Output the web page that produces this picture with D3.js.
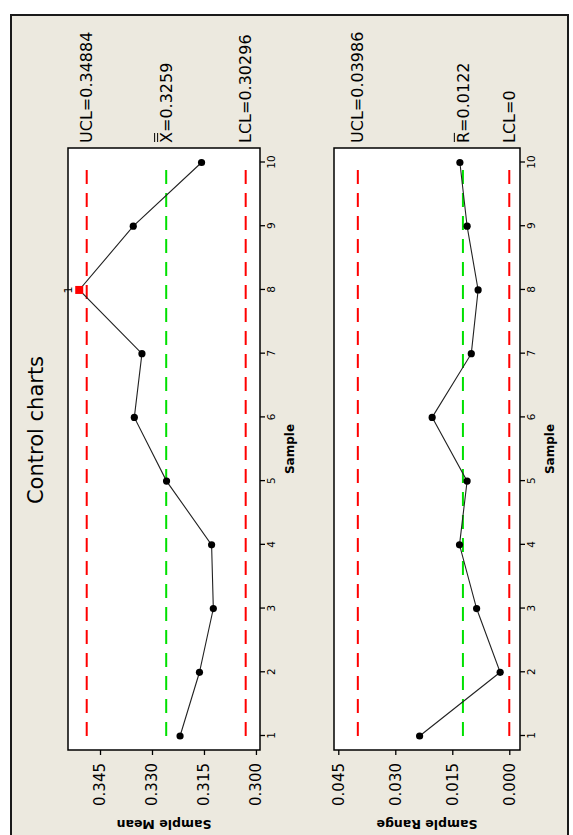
<!DOCTYPE html>
<html><head><meta charset="utf-8">
<script src="https://cdn.jsdelivr.net/npm/d3@7"></script>
<style>body{margin:0;background:#fff;} svg{display:block}</style>
</head><body><svg id="c" width="573" height="835"></svg>
<script>
// ---- data ----
const samples = [1,2,3,4,5,6,7,8,9,10];
const sampleMeans  = [0.3219,0.3163,0.3123,0.3128,0.3258,0.3351,0.3329,0.3510,0.3354,0.3157];
const sampleRanges = [0.0236,0.0024,0.0086,0.0131,0.0111,0.0203,0.0100,0.0082,0.0111,0.0130];
const meanLimitValues  = [0.34884, 0.3259, 0.30296];
const meanLimitLabels  = ["UCL=0.34884", "=0.3259", "LCL=0.30296"];
const rangeLimitValues = [0.03986, 0.0122, 0];
const rangeLimitLabels = ["UCL=0.03986", "=0.0122", "LCL=0"];
const meanTicks  = [0.300, 0.315, 0.330, 0.345];
const rangeTicks = [0.000, 0.015, 0.030, 0.045];
const flaggedSamples = [8];
const flagLabel = "1";
const title = "Control charts";

// ---- layout (drawn in landscape coords, then rotated -90) ----
const svg = d3.select("#c");
svg.append("rect").attr("x",11).attr("y",15).attr("width",557).attr("height",840)
  .attr("fill","#ECE9DF").attr("stroke","#1a1a1a").attr("stroke-width",2);

const g = svg.append("g").attr("transform","translate(0,835) rotate(-90)");
const X0 = 85, X1 = 687;
const xS = d3.scaleLinear().domain([1,10]).range([99,672.5]);
const FONT = "DejaVu Sans, Verdana, sans-serif";

g.append("text").attr("x",405).attr("y",43).attr("text-anchor","middle")
  .attr("font-family",FONT).attr("font-size",21).attr("fill","#000").text(title);

function panel(cfg){
  const {y0,y1,domain,values,limVals,limLabels,ticks,ylabel,barCount} = cfg;
  const yS = d3.scaleLinear().domain(domain).range([y1,y0]);
  const p = g.append("g");
  p.append("rect").attr("x",X0).attr("y",y0).attr("width",X1-X0).attr("height",y1-y0)
    .attr("fill","#fff").attr("stroke","#000").attr("stroke-width",1.5);
  // sample axis
  const ax = p.append("g").attr("transform",`translate(0,${y1})`)
    .call(d3.axisBottom(xS).tickValues(samples).tickSize(5).tickSizeOuter(0).tickPadding(3).tickFormat(d3.format("d")));
  ax.select(".domain").remove();
  ax.selectAll("line").attr("stroke","#000").attr("stroke-width",1.3);
  ax.selectAll("text").attr("font-family",FONT).attr("font-size",10.5).attr("fill","#000");
  // value axis
  const ay = p.append("g").attr("transform",`translate(${X0},0)`)
    .call(d3.axisLeft(yS).tickValues(ticks).tickSize(5).tickSizeOuter(0).tickPadding(8).tickFormat(d3.format(".3f")));
  ay.select(".domain").remove();
  ay.selectAll("line").attr("stroke","#000").attr("stroke-width",1.3);
  ay.selectAll("text").attr("font-family",FONT).attr("font-size",15).attr("fill","#000");
  // axis titles
  p.append("text").attr("x",(X0+X1)/2).attr("y",y1+34).attr("text-anchor","middle")
    .attr("font-family",FONT).attr("font-weight","bold").attr("font-size",12).text("Sample");
  p.append("text").attr("transform",`translate(15,${(y0+y1)/2}) rotate(-90)`).attr("text-anchor","middle")
    .attr("font-family",FONT).attr("font-weight","bold").attr("font-size",12.5).text(ylabel);
  // control lines
  limVals.forEach((v,i)=>{
    p.append("line").attr("x1",xS(samples[0])).attr("x2",xS(samples[samples.length-1]))
      .attr("y1",yS(v)).attr("y2",yS(v))
      .attr("stroke", i===1 ? "#00E000" : "#FF0000").attr("stroke-width",2)
      .attr("stroke-dasharray","14,9");
    const lx = 692, ly = yS(v);
    if(i===1){
      const sym = p.append("text").attr("x",lx).attr("y",ly).attr("dy","0.35em")
        .attr("font-family",FONT).attr("font-size",16).text(barCount===2?"X":"R");
      const bb = sym.node().getBBox();
      const capTop = ly + 0.35*16 - 0.73*16;
      for(let k=0;k<barCount;k++){
        const by = capTop - 2.5 - k*3;
        p.append("line").attr("x1",bb.x+1).attr("x2",bb.x+bb.width-1).attr("y1",by).attr("y2",by)
          .attr("stroke","#000").attr("stroke-width",1);
      }
      p.append("text").attr("x",lx+bb.width).attr("y",ly).attr("dy","0.35em")
        .attr("font-family",FONT).attr("font-size",16).text(limLabels[i]);
    } else {
      p.append("text").attr("x",lx).attr("y",ly).attr("dy","0.35em")
        .attr("font-family",FONT).attr("font-size",16).text(limLabels[i]);
    }
  });
  // data line
  const pts = samples.map((s,i)=>({s, v:values[i]}));
  p.append("path").datum(pts).attr("fill","none").attr("stroke","#222").attr("stroke-width",1.1)
    .attr("d", d3.line().x(d=>xS(d.s)).y(d=>yS(d.v)));
  const flagged = d => cfg.flags && flaggedSamples.includes(d.s);
  p.selectAll("circle").data(pts.filter(d=>!flagged(d))).join("circle")
    .attr("cx",d=>xS(d.s)).attr("cy",d=>yS(d.v)).attr("r",3.6).attr("fill","#000");
  const fp = pts.filter(flagged);
  p.selectAll("rect.flag").data(fp).join("rect").attr("class","flag")
    .attr("x",d=>xS(d.s)-4).attr("y",d=>yS(d.v)-4).attr("width",8).attr("height",8).attr("fill","#FF0000");
  p.selectAll("text.flag").data(fp).join("text").attr("class","flag")
    .attr("x",d=>xS(d.s)).attr("y",d=>yS(d.v)-7).attr("text-anchor","middle")
    .attr("font-family",FONT).attr("font-size",11).text(flagLabel);
}

panel({y0:68, y1:260, domain:[0.29883,0.35424], values:sampleMeans, limVals:meanLimitValues,
  limLabels:meanLimitLabels, ticks:meanTicks, ylabel:"Sample Mean", barCount:2, flags:true});
panel({y0:334, y1:520, domain:[-0.00282,0.04613], values:sampleRanges, limVals:rangeLimitValues,
  limLabels:rangeLimitLabels, ticks:rangeTicks, ylabel:"Sample Range", barCount:1, flags:false});
</script></body></html>
